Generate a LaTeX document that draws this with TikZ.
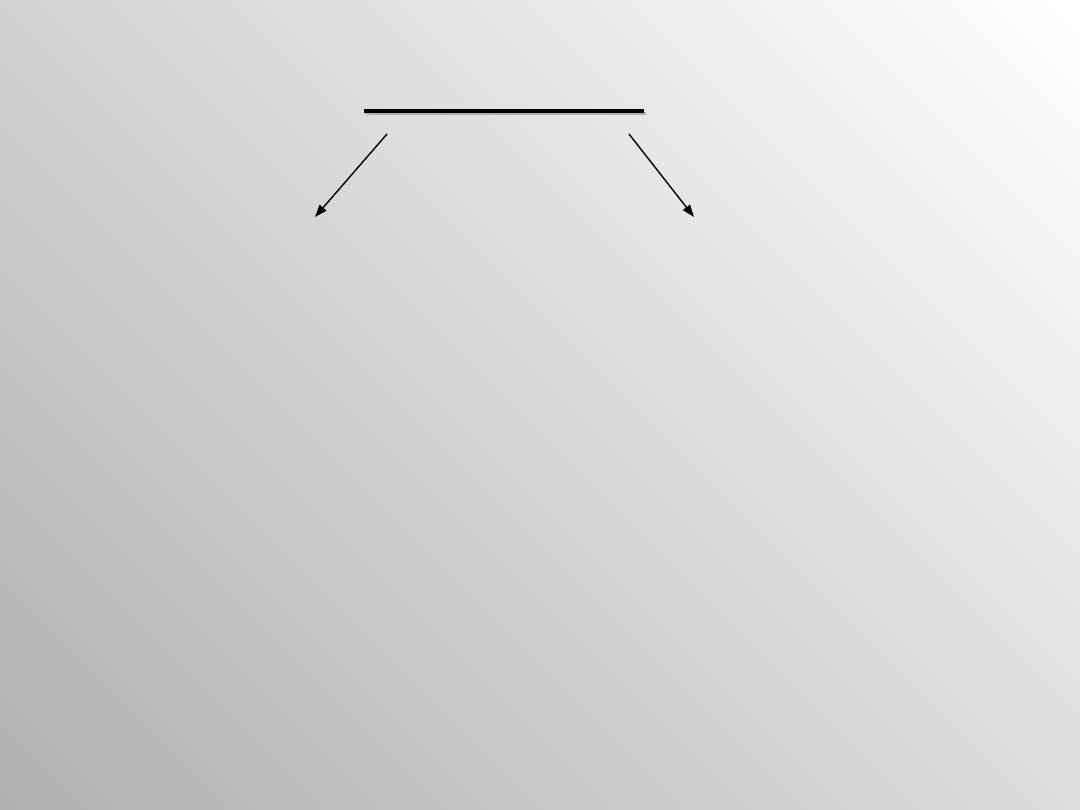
\documentclass[tikz,border=0pt]{standalone}
\usetikzlibrary{arrows.meta}
\definecolor{bgdark}{RGB}{176,176,176}
\definecolor{shadowgray}{RGB}{175,175,175}
\pgfdeclarehorizontalshading{slidebg}{100bp}{color(0bp)=(bgdark); color(14.6bp)=(bgdark); color(85.4bp)=(white); color(100bp)=(white)}
\tikzset{
  splitarrow/.style={-{Triangle[length=7pt,width=5pt]}, line width=0.8pt},
  bar/.style={line width=1.8pt, black},
  barshadow/.style={line width=1.8pt, shadowgray}
}
\begin{document}
\begin{tikzpicture}[x=0.02cm,y=-0.02cm]
  \useasboundingbox (0,0) rectangle (1080,810);
  \shade[shading=slidebg, shading angle=45] (0,0) rectangle (1080,810);
  % top bar
  \coordinate (barL) at (364,111);
  \coordinate (barR) at (644,111);
  \draw[barshadow] ([shift={(2,2.5)}]barL) -- ([shift={(2,2.5)}]barR);
  \draw[bar] (barL) -- (barR);
  % arrows
  \coordinate (leftstart) at (387,134);
  \coordinate (leftend) at (315,217);
  \coordinate (rightstart) at (629,134);
  \coordinate (rightend) at (694,217);
  \draw[splitarrow] (leftstart) -- (leftend);
  \draw[splitarrow] (rightstart) -- (rightend);
\end{tikzpicture}
\end{document}
